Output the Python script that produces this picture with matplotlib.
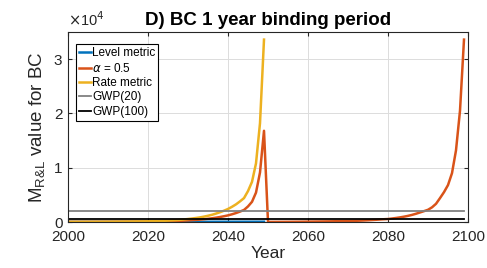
import numpy as np
import matplotlib
matplotlib.use('Agg')
import matplotlib.pyplot as plt
from matplotlib.ticker import FuncFormatter

plt.rcParams['font.family'] = ['Liberation Sans', 'DejaVu Sans']

# years with data
years_first = list(range(2000, 2050))
years_all = list(range(2000, 2100))

# level metric (only first binding horizon), close to zero
level_metric = [10, 10, 11, 11, 12, 12, 13, 13, 14, 14,
                15, 15, 16, 16, 17, 18, 18, 19, 20, 21,
                22, 23, 24, 25, 26, 27, 28, 29, 30, 31,
                32, 33, 34, 35, 36, 37, 38, 39, 40, 41,
                42, 43, 44, 45, 46, 47, 48, 49, 50, 50]

# rate metric
rate_metric = [20, 22, 24, 26, 28, 31, 34, 37, 41, 45,
               50, 55, 61, 67, 74, 81, 89, 98, 108, 116,
               125, 145, 165, 190, 220, 255, 295, 340, 400, 470,
               550, 640, 740, 850, 990, 1150, 1330, 1550, 1800, 2080,
               2400, 2800, 3250, 3800, 4400, 5700, 7400, 10800, 18200, 33600]

# alpha = 0.5 mix
alpha_half = [15, 16, 17, 18, 20, 21, 23, 25, 27, 29,
              32, 35, 38, 41, 45, 49, 53, 58, 64, 68,
              73, 84, 95, 108, 123, 141, 161, 185, 215, 250,
              290, 336, 387, 443, 513, 593, 684, 794, 920, 1060,
              1220, 1420, 1650, 1920, 2220, 2870, 3720, 5420, 9120, 16800,
              15, 18, 21, 25, 29, 34, 40, 46, 53, 62,
              72, 80, 88, 97, 106, 116, 127, 140, 154, 170,
              185, 205, 225, 250, 280, 320, 365, 410, 460, 510,
              550, 640, 740, 850, 980, 1130, 1310, 1520, 1760, 2000,
              2250, 2700, 3350, 4400, 5500, 6800, 9000, 13200, 20500, 33600]

gwp20 = 2100
gwp100 = 550

fig = plt.figure(figsize=(4.87, 2.68), dpi=100)
ax = fig.add_axes([68 / 487, 46 / 268, 400 / 487, 190 / 268])

ax.plot(years_first, level_metric, color='#0072BD', lw=1.8, label='Level metric')
ax.plot(years_all, alpha_half, color='#D95319', lw=1.8, label=r'$\alpha$ = 0.5')
ax.plot(years_first, rate_metric, color='#EDB120', lw=1.8, label='Rate metric')
ax.plot([years_all[0], years_all[-1]], [gwp20, gwp20], color='#808080', lw=1.3, label='GWP(20)')
ax.plot([years_all[0], years_all[-1]], [gwp100, gwp100], color='black', lw=1.3, label='GWP(100)')

ax.set_xlim(2000, 2100)
ax.set_ylim(0, 35000)
ax.set_xticks(range(2000, 2101, 20))
ax.set_yticks([0, 10000, 20000, 30000])
ax.yaxis.set_major_formatter(FuncFormatter(lambda v, p: '%g' % (v / 1e4)))
ax.text(0.0, 1.015, r'$\times$10$^4$', transform=ax.transAxes, fontsize=10.5,
        color='#262626', ha='left', va='bottom')

ax.grid(True, color='#dcdcdc', lw=0.7)
ax.tick_params(direction='in', top=True, right=True, labelsize=11,
               colors='#262626', length=3, width=0.8)
ax.tick_params(axis='x', pad=6)
ax.tick_params(axis='y', pad=4)
for s in ax.spines.values():
    s.set_color('#262626')
    s.set_linewidth(0.8)

ax.set_title('D) BC 1 year binding period', fontsize=13.5, fontweight='bold', pad=5)
ax.set_xlabel('Year', fontsize=12.5, color='#262626', labelpad=1)
ax.set_ylabel(r'M$_{\mathregular{R&L}}$ value for BC', fontsize=13.5, color='#262626', labelpad=4)

leg = ax.legend(loc='upper left', bbox_to_anchor=(0.02, 0.935), fontsize=8.5,
                handlelength=1.0, handletextpad=0.1, labelspacing=0.2,
                borderpad=0.25, borderaxespad=0, frameon=True, fancybox=False,
                framealpha=1, edgecolor='black')
leg.get_frame().set_linewidth(0.8)

plt.savefig('out.png', dpi=100)
